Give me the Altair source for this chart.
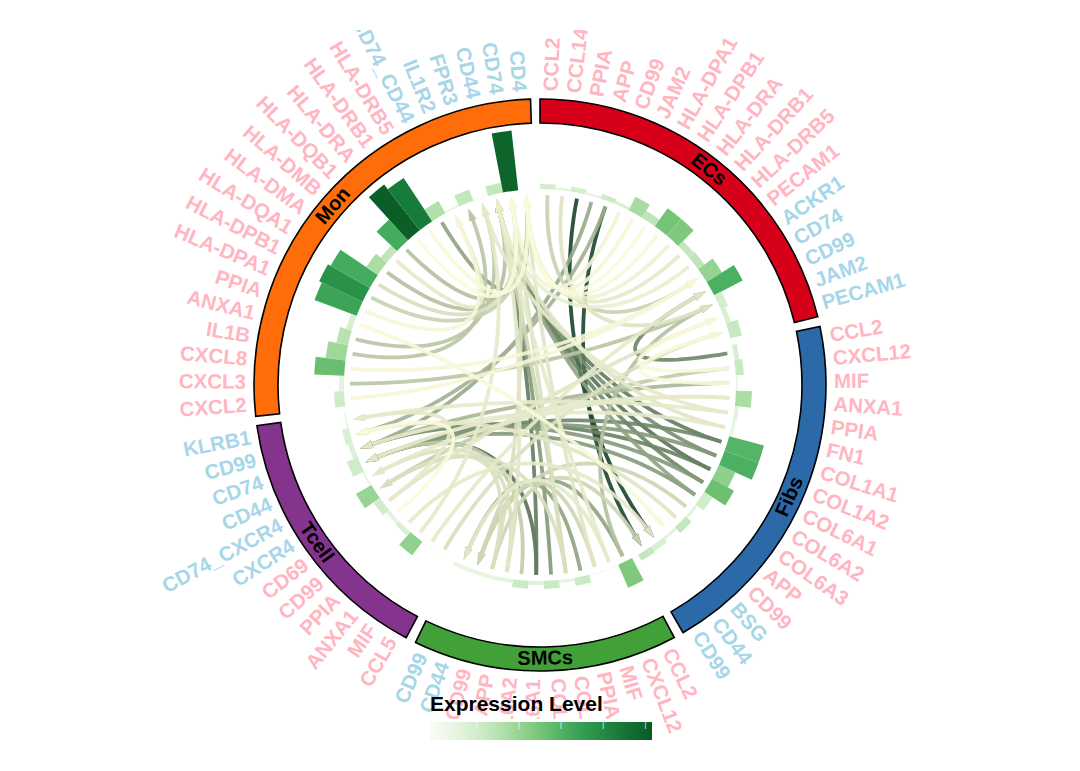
import numpy as np
import pandas as pd
import altair as alt

FONT = "Liberation Sans"
PINK = "#FFB6C1"
BLUE = "#A6D6E8"

sector_names = ["ECs", "Fibs", "SMCs", "Tcell", "Mon"]
sector_colors = ["#D7001A", "#2C69A9", "#41A038", "#85348E", "#FF6D0A"]
sector_start = [0.0, 78.2, 152.0, 207.9, 263.7]
sector_end = [76.2, 150.0, 205.8, 261.8, 358.1]

ec_labels = ["CCL2", "CCL14", "PPIA", "APP", "CD99", "JAM2", "HLA-DPA1", "HLA-DPB1", "HLA-DRA", "HLA-DRB1", "HLA-DRB5", "PECAM1",
             "ACKR1", "CD74", "CD99", "JAM2", "PECAM1"]
fib_labels = ["CCL2", "CXCL12", "MIF", "ANXA1", "PPIA", "FN1", "COL1A1", "COL1A2", "COL6A1", "COL6A2", "COL6A3", "APP", "CD99",
              "BSG", "CD44", "CD99"]
smc_labels = ["CCL2", "CXCL12", "MIF", "PPIA", "COL1A1", "COL1A2", "COL6A1", "COL6A2", "APP", "CD99",
              "CD44", "CD99"]
tc_labels = ["CCL5", "MIF", "ANXA1", "PPIA", "CD99", "CD69",
             "CXCR4", "CD74_CXCR4", "CD44", "CD74", "CD99", "KLRB1"]
mon_labels = ["CXCL2", "CXCL3", "CXCL8", "IL1B", "ANXA1", "PPIA", "HLA-DPA1", "HLA-DPB1", "HLA-DQA1", "HLA-DMA", "HLA-DMB",
              "HLA-DQB1", "HLA-DRA", "HLA-DRB1", "HLA-DRB5",
              "CD74_CD44", "IL1R2", "FPR3", "CD44", "CD74", "CD4"]
sector_labels = [ec_labels, fib_labels, smc_labels, tc_labels, mon_labels]
n_ligands = [12, 13, 10, 6, 15]

ec_h = [5, 2, 5, 2, 5, 3, 15, 8, 22, 22, 7, 8, 18, 32, 8, 5, 12]
ec_lv = [.2, .15, .2, .15, .22, .18, .35, .28, .5, .47, .26, .28, .41, .6, .2, .18, .25]
fib_h = [5, 8, 2, 16, 4, 3, 36, 36, 18, 25, 10, 3, 8, 3, 6, 7]
fib_lv = [.18, .25, .1, .34, .14, .12, .58, .6, .43, .52, .21, .14, .26, .14, .18, .26]
smc_h = [25, 1, 1, 8, 3, 8, 4, 8, 4, 4, 4, 4]
smc_lv = [.47, .03, .05, .24, .12, .24, .15, .24, .13, .11, .11, .11]
tc_h = [1, 1, 17, 5, 4, 8, 18, 2, 12, 5, 7, 2]
tc_lv = [.02, .03, .42, .18, .14, .21, .4, .1, .22, .17, .18, .08]
mon_h = [10, 5, 30, 20, 12, 6, 45, 48, 45, 14, 8, 28, 58, 52, 14, 2, 12, 1, 10, 60, 0.5]
mon_lv = [.22, .14, .53, .38, .3, .18, .66, .75, .62, .34, .27, .62, .98, .85, .32, .1, .26, .03, .26, .95, .02]
sector_h = [ec_h, fib_h, smc_h, tc_h, mon_h]
sector_lv = [ec_lv, fib_lv, smc_lv, tc_lv, mon_lv]

# links: global item index of ligand, of receptor, and strength
link_src = [0, 1, 2, 3, 4, 4, 5, 6, 7, 8, 9, 10, 11,
            17, 18, 19, 18, 19, 20, 21, 22, 23, 23, 24, 24, 25, 25, 26, 26, 27, 27, 28, 29,
            33, 33, 34, 35, 36, 37, 38, 39, 39, 40, 41, 42,
            45, 46, 47, 48, 49, 50, 50,
            57, 58, 59, 60, 61, 62, 63, 64, 65, 66, 67, 68, 69, 70, 71,
            20, 21, 22, 37, 41, 42, 41, 42, 37, 35, 34]
link_dst = [12, 14, 31, 54, 32, 55, 76, 77, 77, 77, 77, 77, 75,
            13, 15, 16, 51, 54, 53, 74, 75, 75, 53, 75, 53, 75, 54, 75, 54, 53, 75, 43, 55,
            43, 14, 44, 43, 44, 75, 75, 53, 75, 53, 43, 32,
            16, 13, 74, 31, 55, 15, 56,
            12, 14, 12, 73, 74, 30, 72, 77, 76, 75, 72, 77, 76, 77, 77,
            52, 56, 54, 51, 52, 51, 75, 76, 76, 77, 75]
link_w = [.22, .13, .97, .42, .95, .38, .05, .04, .02, .03, .06, .1, .08,
          .6, .03, .03, .25, .35, .1, .1, .12, .65, .6, .55, .5, .7, .62, .6, .5, .5, .45, .2, .12,
          .45, .3, .1, .2, .45, .2, .5, .7, .65, .25, .2, .2,
          .15, .1, .1, .1, .02, .12, .1,
          .04, .28, .04, .28, .28, .03, .04, .22, .15, .3, .1, .3, .02, .03, .45,
          .1, .1, .1, .15, .15, .15, .12, .15, .15, .12, .1]

legend_ticks = [.018, .21, .40, .59, .78, .97]
legend_stops = [0, .125, .25, .375, .5, .625, .75, .875, 1]
legend_colors = ["#f7fcf5", "#e5f5e0", "#c7e9c0", "#a1d99b", "#74c476", "#41ab5d", "#2a9148", "#127536", "#0a5a26"]

# page geometry
CX, CY = 540.0, 385.0
R_OUT, R_IN = 286.0, 262.0
R_BAR = 196.0
R_LABEL = 294.0
R_LINK = 190.0
R_ARROW = 184.5
K = 0.40

xs = alt.Scale(domain=[8, 1072], nice=False, zero=False)
ys = alt.Scale(domain=[745, 30], nice=False, zero=False)
ts = alt.Scale(domain=[0, 360], range=[0, 2 * np.pi], nice=False, zero=False)
rs = alt.Scale(type="linear", domain=[0, 400], range=[0, 400], nice=False)
ws = alt.Scale(domain=[0, 1], range=["#ffffe0", "#103d27"])


def X(f):
    return alt.X(f, type="quantitative", scale=xs, axis=None)


def Y(f):
    return alt.Y(f, type="quantitative", scale=ys, axis=None)


def polar(theta, r):
    a = np.radians(theta)
    return CX + r * np.sin(a), CY - r * np.cos(a)


items = []
for s, labs in enumerate(sector_labels):
    step = (sector_end[s] - sector_start[s]) / len(labs)
    for k, lab in enumerate(labs):
        a0 = sector_start[s] + k * step
        items.append(dict(label=lab, th0=a0, th1=a0 + step, th=a0 + step / 2,
                          h=sector_h[s][k], level=sector_lv[s][k],
                          ligand=k < n_ligands[s], cx=CX, cy=CY))
items = pd.DataFrame(items)
items["r0"] = R_BAR
items["r1"] = R_BAR + items["h"]

lab_x, lab_y = polar(items["th"].values, R_LABEL)
items["lx"], items["ly"] = lab_x, lab_y
right = items["th"] < 180
items["rot"] = np.where(right, items["th"] - 90, items["th"] + 90)
items["side"] = np.where(right, "R", "L")
items["col"] = np.where(items["ligand"], PINK, BLUE)

ring = pd.DataFrame(dict(name=sector_names, col=sector_colors, th0=sector_start, th1=sector_end))
ring["r0"], ring["r1"], ring["cx"], ring["cy"] = R_IN, R_OUT, CX, CY
ring["mid"] = (ring["th0"] + ring["th1"]) / 2
ring["lx"], ring["ly"] = polar(ring["mid"].values, 273.5)
ring["rot"] = np.where((ring["mid"] > 90) & (ring["mid"] < 270), ring["mid"] - 180, ring["mid"])

# curves, palest drawn last
t = np.linspace(0, 1, 41)
rows, arrows = [], []
link_order = sorted(zip(link_src, link_dst, link_w), key=lambda v: -v[2])
for i, (a, b, w) in enumerate(link_order):
    ta, tb = items["th"].iloc[a], items["th"].iloc[b]
    p0 = np.array(polar(ta, R_LINK))
    p3 = np.array(polar(tb, R_ARROW))
    c = np.array([CX, CY])
    p1 = c + (p0 - c) * K
    p2 = c + (p3 - c) * K
    for j, u in enumerate(t):
        pt = (1 - u) ** 3 * p0 + 3 * (1 - u) ** 2 * u * p1 + 3 * (1 - u) * u ** 2 * p2 + u ** 3 * p3
        rows.append(dict(link=i, o=j, x=pt[0], y=pt[1], w=w))
    arrows.append(dict(x=p3[0], y=p3[1], w=w, deg=tb, link=i))
curves = pd.DataFrame(rows)
arrows = pd.DataFrame(arrows)

lines = alt.Chart(curves).mark_line(strokeWidth=3.8, opacity=0.9, strokeCap="butt", clip=True).encode(
    x=X("x"), y=Y("y"), detail="link:N", order="o:Q",
    color=alt.Color("w:Q", scale=ws, legend=None),
)
heads = alt.Chart(arrows).mark_point(filled=True, opacity=0.95, size=170,
                                     shape="M0,-1L0.6,1L-0.6,1Z").encode(
    x=X("x"), y=Y("y"),
    angle=alt.Angle("deg:Q", scale=None),
    color=alt.Color("w:Q", scale=ws, legend=None),
)

bars = alt.Chart(items).mark_arc().encode(
    x=X("cx"), y=Y("cy"),
    theta=alt.Theta("th0:Q", scale=ts, stack=None), theta2="th1:Q",
    radius=alt.Radius("r0:Q", scale=rs), radius2="r1:Q",
    color=alt.Color("level:Q",
                    scale=alt.Scale(domain=legend_stops, range=legend_colors),
                    legend=alt.Legend(title="Expression Level", orient="none", direction="horizontal",
                                      legendX=422, legendY=664, gradientLength=222,
                                      gradientThickness=18, gradientStrokeWidth=0, zindex=1,
                                      values=legend_ticks, labelExpr="'|'", labelColor="white",
                                      labelFontSize=7, labelOffset={"expr": "-19"}, labelAlign="center",
                                      labelBaseline="top", labelOverlap=False,
                                      titleFont=FONT, titleFontSize=21, titleFontWeight="bold",
                                      titleColor="black", titlePadding=7, padding=0)),
)

ring_arcs = alt.Chart(ring).mark_arc(stroke="black", strokeWidth=1.6).encode(
    x=X("cx"), y=Y("cy"),
    theta=alt.Theta("th0:Q", scale=ts, stack=None), theta2="th1:Q",
    radius=alt.Radius("r0:Q", scale=rs), radius2="r1:Q",
    color=alt.Color("col:N", scale=None, legend=None),
)
ring_text = alt.Chart(ring).mark_text(font=FONT, fontSize=20, fontWeight="bold", color="black",
                                      align="center", baseline="middle").encode(
    x=X("lx"), y=Y("ly"), text="name:N", angle=alt.Angle("rot:Q", scale=None),
)


def lab_layer(side, align):
    return alt.Chart(items[items["side"] == side]).mark_text(
        font=FONT, fontSize=20.5, fontWeight="bold", align=align, baseline="middle", clip=True
    ).encode(
        x=X("lx"), y=Y("ly"), text="label:N",
        angle=alt.Angle("rot:Q", scale=None),
        color=alt.Color("col:N", scale=None, legend=None),
    )


# the white box behind the colour bar, which hides the ends of the labels below it
legend_box = alt.Chart(pd.DataFrame(dict(x=[424.0], x2=[655.0], y=[719.0], y2=[745.0]))).mark_rect(color="white").encode(
    x=X("x"), x2="x2:Q", y=Y("y"), y2="y2:Q"
)

chart = alt.layer(lab_layer("R", "left"), lab_layer("L", "right"), legend_box, ring_arcs, ring_text, bars, lines, heads
                  ).resolve_scale(color="independent").properties(
    width=1064, height=715, padding={"left": 0, "top": 22, "right": 0, "bottom": 0}
).configure_view(stroke=None)

chart.save("out.html", embed_options={"renderer": "svg", "actions": False})
